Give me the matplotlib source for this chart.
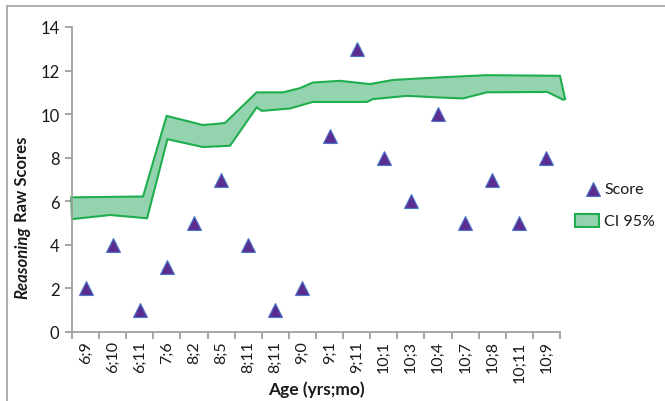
import matplotlib
matplotlib.use("Agg")
import matplotlib.pyplot as plt
from matplotlib.patches import Rectangle, Polygon
from matplotlib.lines import Line2D
import numpy as np

plt.rcParams['font.family'] = ['Lato', 'DejaVu Sans']

ages = ["6;9", "6;10", "6;11", "7;6", "8;2", "8;5", "8;11", "8;11", "9;0",
        "9;1", "9;11", "10;1", "10;3", "10;4", "10;7", "10;8", "10;11", "10;9"]
scores = [2, 4, 1, 3, 5, 7, 4, 1, 2, 9, 13, 8, 6, 10, 5, 7, 5, 8]

# CI band outline (x in category-index units)
upper_x = [-0.53, 2.12, 2.99, 4.33, 5.14, 6.31, 7.28, 7.90, 8.38, 9.38, 10.49,
           11.34, 12.96, 14.80, 17.50, 17.69]
upper_y = [6.18, 6.22, 9.92, 9.50, 9.59, 11.0, 11.0, 11.19, 11.45, 11.53, 11.38,
           11.57, 11.68, 11.79, 11.76, 10.69]
lower_x = [-0.50, 0.91, 2.27, 3.02, 4.33, 5.33, 6.31, 6.50, 7.54, 8.38, 10.38,
           10.60, 11.86, 12.96, 13.92, 14.80, 17.03, 17.62]
lower_y = [5.18, 5.37, 5.22, 8.85, 8.49, 8.55, 10.31, 10.15, 10.26, 10.56, 10.56,
           10.69, 10.84, 10.77, 10.72, 11.0, 11.02, 10.66]

W, H = 665, 402
fig = plt.figure(figsize=(W / 100, H / 100), dpi=100)
fig.patch.set_facecolor('white')

# chart border
fig.add_artist(Rectangle((7 / W, -0.2), 1.5, 1 - 7 / H + 0.2, transform=fig.transFigure,
                         fill=False, edgecolor='#a6a6a6', linewidth=1.3))

ax = fig.add_axes([72 / W, 1 - 333 / H, (560 - 72) / W, (333 - 28) / H])
ax.set_xlim(-0.5, len(ages) - 0.5)
ax.set_ylim(0, 14)

band_color = '#93d3ad'
edge_color = '#1fae4f'
poly_pts = list(zip(upper_x, upper_y)) + list(zip(lower_x[::-1], lower_y[::-1]))
ax.add_patch(Polygon(poly_pts, closed=True, facecolor=band_color, edgecolor=edge_color,
                     linewidth=1.5, clip_on=False, zorder=2))

x = np.arange(len(ages))
ax.plot(x, scores, linestyle='none', marker='^', markersize=10.5,
        markerfacecolor='#5b2d91', markeredgecolor='#4a78c8', markeredgewidth=0.8,
        zorder=3, clip_on=False)

for s in ['top', 'right']:
    ax.spines[s].set_visible(False)
for s in ['left', 'bottom']:
    ax.spines[s].set_color('#a0a0a0')
    ax.spines[s].set_linewidth(1.3)

text_color = '#1a1a1a'
ax.set_yticks(range(0, 15, 2))
ax.tick_params(axis='y', labelsize=12, colors='#a0a0a0', labelcolor=text_color,
               length=5, width=1.3, pad=4)
ax.set_xticks(np.arange(-0.5, len(ages), 1.0))
ax.set_xticklabels([])
ax.set_xticks(x, minor=True)
ax.set_xticklabels(ages, minor=True, rotation=90, fontsize=11.5, color=text_color)
ax.tick_params(axis='x', which='major', length=5, width=1.3, colors='#a0a0a0')
ax.tick_params(axis='x', which='minor', length=0, pad=6)

fig.text(316 / W, 1 - 390 / H, "Age (yrs;mo)", ha='center', va='center',
         fontsize=12.5, fontweight='bold', color=text_color)

# y label with mixed styles
fig.canvas.draw()
r = fig.canvas.get_renderer()
t1 = fig.text(22 / W, 0, "Reasoning", rotation=90, ha='center', va='bottom',
              fontsize=12, fontweight='bold', fontstyle='italic', color=text_color)
t2 = fig.text(22 / W, 0, " Raw Scores", rotation=90, ha='center', va='bottom',
              fontsize=12, fontweight='bold', color=text_color)
h1 = t1.get_window_extent(r).height
h2 = t2.get_window_extent(r).height
center = 1 - 218 / H
start = center - (h1 + h2) / 2 / H
t1.set_y(start)
t2.set_y(start + h1 / H)

# legend
fig.add_artist(Line2D([593 / W], [1 - 190 / H], marker='^', markersize=10.5,
                      markerfacecolor='#5b2d91', markeredgecolor='#4a78c8',
                      markeredgewidth=0.8, linestyle='none', transform=fig.transFigure))
fig.text(604 / W, 1 - 190 / H, "Score", ha='left', va='center', fontsize=11.5, color=text_color)
fig.add_artist(Rectangle((575 / W, 1 - 228 / H), 24 / W, 13 / H, transform=fig.transFigure,
                         facecolor=band_color, edgecolor=edge_color, linewidth=1.5))
fig.text(604 / W, 1 - 222 / H, "CI 95%", ha='left', va='center', fontsize=11.5, color=text_color)

fig.savefig("out.png", dpi=100)
